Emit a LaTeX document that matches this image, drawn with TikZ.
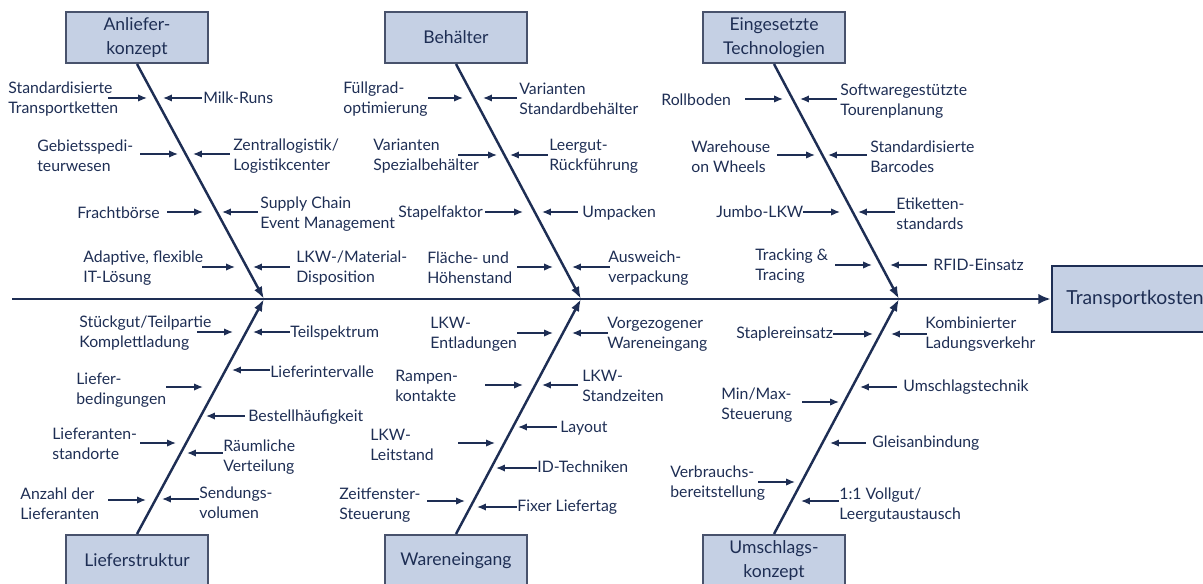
\documentclass[tikz,border=0pt]{standalone}
\usepackage{fontspec}
\setmainfont{Lato}
\usetikzlibrary{arrows.meta}
\definecolor{fishnavy}{RGB}{30,46,84}
\definecolor{boxfill}{RGB}{197,208,228}
\definecolor{boxline}{RGB}{72,82,108}
\tikzset{
  catbox/.style={rectangle, draw=boxline, fill=boxfill, line width=1.2pt,
    minimum width=2.84cm, minimum height=1.02cm, align=center, inner sep=0pt,
    text=fishnavy, font=\fontsize{10}{13.5}\selectfont},
  effectbox/.style={catbox, draw=fishnavy, line width=1.6pt,
    minimum width=3.32cm, minimum height=1.32cm,
    font=\fontsize{11}{13.5}\selectfont},
  cause/.style={anchor=west, align=left, inner sep=0pt, text=fishnavy,
    font=\fontsize{9}{11.4}\selectfont},
  spine/.style={-{Latex[length=7pt,width=6pt]}, line width=1.7pt, draw=fishnavy},
  bone/.style={-{Latex[length=7pt,width=5pt]}, line width=1.4pt, draw=fishnavy},
  push/.style={{Latex[length=5pt,width=4.2pt]}-, line width=0.9pt, draw=fishnavy},
}

\begin{document}
\begin{tikzpicture}[x=0.02cm, y=-0.02cm]
  \useasboundingbox (0,0) rectangle (1203,584);

  % categories and effect
  \node[catbox] (anl) at (137,37.5) {Anliefer-\\konzept};
  \node[catbox] (beh) at (456,37.5) {Behälter};
  \node[catbox] (tec) at (774,37.5) {Eingesetzte\\Technologien};
  \node[catbox] (lst) at (137,560.5) {Lieferstruktur};
  \node[catbox] (wei) at (456,560.5) {Wareneingang};
  \node[catbox] (ums) at (774,560.5) {Umschlags-\\konzept};
  \node[effectbox] (tk) at (1135,299) {Transportkosten};

  \coordinate (tail) at (12,299);
  \coordinate (jA) at (264,299);
  \coordinate (jB) at (581,299);
  \coordinate (jC) at (899,299);

  \draw[spine] (tail) -- (tk.west);
  \draw[bone] (anl.south) -- (jA);
  \draw[bone] (beh.south) -- (jB);
  \draw[bone] (tec.south) -- (jC);
  \draw[bone] (lst.north) -- (jA);
  \draw[bone] (wei.north) -- (jB);
  \draw[bone] (ums.north) -- (jC);

  % Anlieferkonzept
  \node[cause] (a1l) at (8,99) {Standardisierte\\Transportketten};
  \node[cause] (a1r) at (203,98) {Milk-Runs};
  \node[cause] (a2l) at (37,156) {Gebietsspedi-\\teurwesen};
  \node[cause] (a2r) at (233,156) {Zentrallogistik/\\Logistikcenter};
  \node[cause] (a3l) at (77,213) {Frachtbörse};
  \node[cause] (a3r) at (260,214) {Supply Chain\\Event Management};
  \node[cause] (a4l) at (83,268) {Adaptive, flexible\\IT-Lösung};
  \node[cause] (a4r) at (296,268) {LKW-/Material-\\Disposition};
  \coordinate (ta1l) at (147,98);  \coordinate (ta1r) at (163,98);
  \coordinate (ta2l) at (178,154); \coordinate (ta2r) at (193,154);
  \coordinate (ta3l) at (203,212); \coordinate (ta3r) at (222,212);
  \coordinate (ta4l) at (235,267); \coordinate (ta4r) at (253,267);
  \draw[push] (ta1l) -- ++(-39,0);  \draw[push] (ta1r) -- ++(39,0);
  \draw[push] (ta2l) -- ++(-38,0);  \draw[push] (ta2r) -- ++(37,0);
  \draw[push] (ta3l) -- ++(-36,0);  \draw[push] (ta3r) -- ++(36,0);
  \draw[push] (ta4l) -- ++(-33,0);  \draw[push] (ta4r) -- ++(37,0);

  % Behaelter
  \node[cause] (b1l) at (343,99) {Füllgrad-\\optimierung};
  \node[cause] (b1r) at (519,99) {Varianten\\Standardbehälter};
  \node[cause] (b2l) at (373,156) {Varianten\\Spezialbehälter};
  \node[cause] (b2r) at (549,156) {Leergut-\\Rückführung};
  \node[cause] (b3l) at (398,213) {Stapelfaktor};
  \node[cause] (b3r) at (582,213) {Umpacken};
  \node[cause] (b4l) at (427,268) {Fläche- und\\Höhenstand};
  \node[cause] (b4r) at (608,268) {Ausweich-\\verpackung};
  \coordinate (tb1l) at (463,98);  \coordinate (tb1r) at (483,98);
  \coordinate (tb2l) at (497,155); \coordinate (tb2r) at (510,155);
  \coordinate (tb3l) at (523,212); \coordinate (tb3r) at (542,212);
  \coordinate (tb4l) at (553,267); \coordinate (tb4r) at (572,267);
  \draw[push] (tb1l) -- ++(-35,0);  \draw[push] (tb1r) -- ++(34,0);
  \draw[push] (tb2l) -- ++(-39,0);  \draw[push] (tb2r) -- ++(38,0);
  \draw[push] (tb3l) -- ++(-38,0);  \draw[push] (tb3r) -- ++(36,0);
  \draw[push] (tb4l) -- ++(-36,0);  \draw[push] (tb4r) -- ++(38,0);

  % Eingesetzte Technologien
  \node[cause] (c1l) at (661,100) {Rollboden};
  \node[cause] (c1r) at (840,101) {Softwaregestützte\\Tourenplanung};
  \node[cause] (c2l) at (691,157) {Warehouse\\on Wheels};
  \node[cause] (c2r) at (870,157) {Standardisierte\\Barcodes};
  \node[cause] (c3l) at (716,212) {Jumbo-LKW};
  \node[cause] (c3r) at (896,214) {Etiketten-\\standards};
  \node[cause] (c4l) at (755,266) {Tracking \&\\Tracing};
  \node[cause] (c4r) at (933,265) {RFID-Einsatz};
  \coordinate (tc1l) at (783,99);  \coordinate (tc1r) at (800,99);
  \coordinate (tc2l) at (815,155); \coordinate (tc2r) at (828,155);
  \coordinate (tc3l) at (840,212); \coordinate (tc3r) at (858,212);
  \coordinate (tc4l) at (872,265); \coordinate (tc4r) at (890,265);
  \draw[push] (tc1l) -- ++(-38,0);  \draw[push] (tc1r) -- ++(37,0);
  \draw[push] (tc2l) -- ++(-38,0);  \draw[push] (tc2r) -- ++(39,0);
  \draw[push] (tc3l) -- ++(-37,0);  \draw[push] (tc3r) -- ++(37,0);
  \draw[push] (tc4l) -- ++(-37,0);  \draw[push] (tc4r) -- ++(37,0);

  % Lieferstruktur
  \node[cause] (d1l) at (79,333) {Stückgut/Teilpartie\\Komplettladung};
  \node[cause] (d1r) at (290,333) {Teilspektrum};
  \node[cause] (d2r) at (270,372) {Lieferintervalle};
  \node[cause] (d2l) at (76,390) {Liefer-\\bedingungen};
  \node[cause] (d3r) at (248,417) {Bestellhäufigkeit};
  \node[cause] (d3l) at (52,444) {Lieferanten-\\standorte};
  \node[cause] (d4r) at (223,457) {Räumliche\\Verteilung};
  \node[cause] (d4l) at (20,504) {Anzahl der\\Lieferanten};
  \node[cause] (d5r) at (199,503) {Sendungs-\\volumen};
  \coordinate (td1l) at (233,332); \coordinate (td1r) at (253,332);
  \coordinate (td2r) at (232,370); \coordinate (td2l) at (203,387);
  \coordinate (td3r) at (206,416); \coordinate (td3l) at (176,443);
  \coordinate (td4r) at (187,453); \coordinate (td4l) at (146,500);
  \coordinate (td5r) at (162,499);
  \draw[push] (td1l) -- ++(-36,0);  \draw[push] (td1r) -- ++(37,0);
  \draw[push] (td2r) -- ++(38,0);   \draw[push] (td2l) -- ++(-37,0);
  \draw[push] (td3r) -- ++(39,0);   \draw[push] (td3l) -- ++(-36,0);
  \draw[push] (td4r) -- ++(36,0);   \draw[push] (td4l) -- ++(-38,0);
  \draw[push] (td5r) -- ++(37,0);

  % Wareneingang
  \node[cause] (e1l) at (430,334) {LKW-\\Entladungen};
  \node[cause] (e1r) at (607,334) {Vorgezogener\\Wareneingang};
  \node[cause] (e2l) at (395,386) {Rampen-\\kontakte};
  \node[cause] (e2r) at (582,386) {LKW-\\Standzeiten};
  \node[cause] (e3r) at (560,428) {Layout};
  \node[cause] (e3l) at (370,445) {LKW-\\Leitstand};
  \node[cause] (e4r) at (537,467) {ID-Techniken};
  \node[cause] (e4l) at (339,505) {Zeitfenster-\\Steuerung};
  \node[cause] (e5r) at (517,507) {Fixer Liefertag};
  \coordinate (te1l) at (553,333); \coordinate (te1r) at (572,333);
  \coordinate (te2l) at (523,385); \coordinate (te2r) at (542,385);
  \coordinate (te3r) at (518,427); \coordinate (te3l) at (495,443);
  \coordinate (te4r) at (496,468); \coordinate (te4l) at (465,501);
  \coordinate (te5r) at (477,507);
  \draw[push] (te1l) -- ++(-36,0);  \draw[push] (te1r) -- ++(36,0);
  \draw[push] (te2l) -- ++(-38,0);  \draw[push] (te2r) -- ++(36,0);
  \draw[push] (te3r) -- ++(39,0);   \draw[push] (te3l) -- ++(-37,0);
  \draw[push] (te4r) -- ++(41,0);   \draw[push] (te4l) -- ++(-38,0);
  \draw[push] (te5r) -- ++(40,0);

  % Umschlagskonzept
  \node[cause] (f1l) at (736,334) {Staplereinsatz};
  \node[cause] (f1r) at (925,334) {Kombinierter\\Ladungsverkehr};
  \node[cause] (f2r) at (903,387) {Umschlagstechnik};
  \node[cause] (f2l) at (721,405) {Min/Max-\\Steuerung};
  \node[cause] (f3r) at (872,443) {Gleisanbindung};
  \node[cause] (f3l) at (670,483) {Verbrauchs-\\bereitstellung};
  \node[cause] (f4r) at (839,505) {1:1 Vollgut/\\Leergutaustausch};
  \coordinate (tf1l) at (873,334); \coordinate (tf1r) at (891,334);
  \coordinate (tf2r) at (860,387); \coordinate (tf2l) at (839,402);
  \coordinate (tf3r) at (830,443); \coordinate (tf3l) at (795,482);
  \coordinate (tf4r) at (801,501);
  \draw[push] (tf1l) -- ++(-40,0);  \draw[push] (tf1r) -- ++(36,0);
  \draw[push] (tf2r) -- ++(37,0);   \draw[push] (tf2l) -- ++(-37,0);
  \draw[push] (tf3r) -- ++(36,0);   \draw[push] (tf3l) -- ++(-37,0);
  \draw[push] (tf4r) -- ++(38,0);
\end{tikzpicture}
\end{document}
